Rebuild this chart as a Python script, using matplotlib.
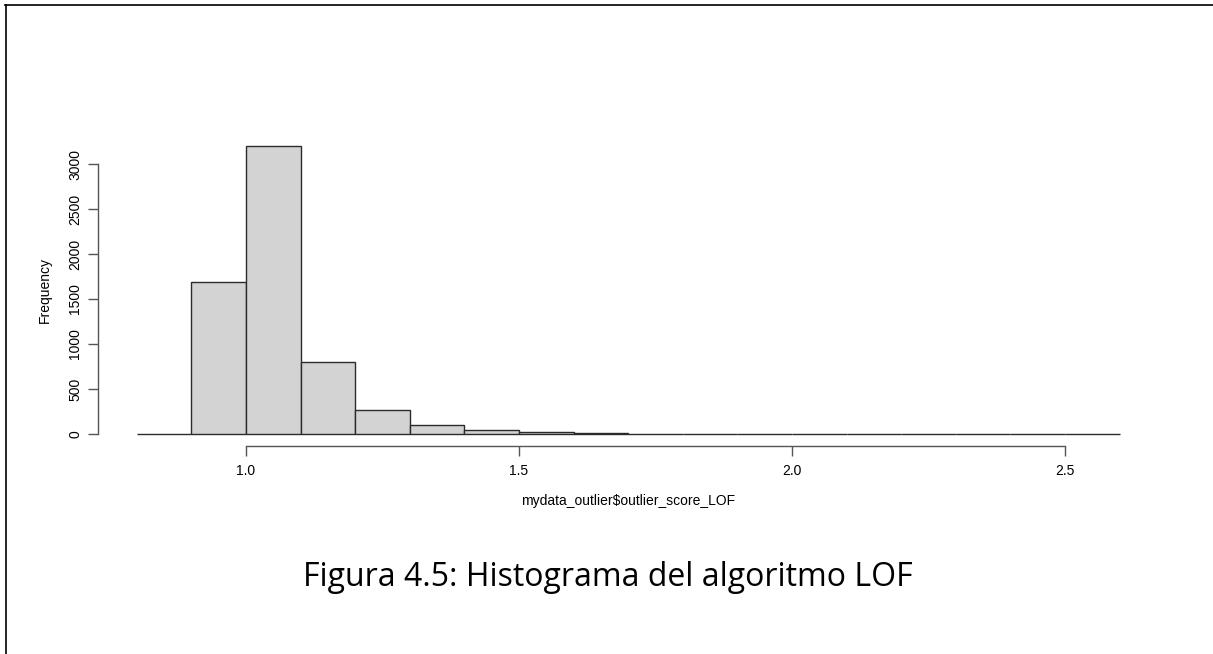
import matplotlib
matplotlib.use("Agg")
import matplotlib.pyplot as plt
from matplotlib.lines import Line2D

# histogram of LOF scores (R style hist)
bin_left = [0.8, 0.9, 1.0, 1.1, 1.2, 1.3, 1.4, 1.5, 1.6, 1.7, 1.8, 1.9, 2.0, 2.1, 2.2, 2.3, 2.4, 2.5]
counts = [2, 1690, 3200, 800, 267, 100, 44, 19, 10, 4, 2, 1, 1, 1, 0, 1, 0, 1]
xticks = [1.0, 1.5, 2.0, 2.5]
yticks = [0, 500, 1000, 1500, 2000, 2500, 3000]
caption = "Figura 4.5: Histograma del algoritmo LOF"

W, H = 1213, 654
fig = plt.figure(figsize=(W / 100, H / 100), dpi=100)
ax = fig.add_axes([97.5 / W, 1 - 445.5 / H, (1159 - 97.5) / W, (445.5 - 134.5) / H])

ax.bar(bin_left, counts, width=0.1, align='edge', color='#d3d3d3',
       edgecolor='#2b2b2b', linewidth=1.0)

# R-like axes: 4% padding, axis lines only across tick range
ax.set_xlim(0.728, 2.672)
ax.set_ylim(-128, 3328)
for s in ['top', 'right']:
  ax.spines[s].set_visible(False)
ax.spines['left'].set_bounds(0, 3000)
ax.spines['bottom'].set_bounds(1.0, 2.5)
for s in ['left', 'bottom']:
  ax.spines[s].set_color('#555555')
  ax.spines[s].set_linewidth(1.0)

ax.set_xticks(xticks)
ax.set_xticklabels(['%.1f' % t for t in xticks], family='Liberation Sans', fontsize=10)
ax.set_yticks(yticks)
ax.set_yticklabels([str(t) for t in yticks], family='Liberation Sans', fontsize=10,
                   rotation=90, va='center')
ax.tick_params(axis='both', direction='out', length=7, width=1.0, color='#555555', pad=6)
ax.tick_params(axis='y', pad=4)

ax.set_xlabel('mydata_outlier$outlier_score_LOF', family='Liberation Sans', fontsize=10, labelpad=12)
ax.set_ylabel('Frequency', family='Liberation Sans', fontsize=10, labelpad=12)

# caption under the plot
fig.text(608 / W, 1 - 577 / H, caption, family='Open Sans', fontsize=23, ha='center', va='center')

# page frame lines (top and left)
fig.add_artist(Line2D([5 / W, 1], [1 - 4.5 / H, 1 - 4.5 / H], color='black', lw=1.2,
                      transform=fig.transFigure))
fig.add_artist(Line2D([5.5 / W, 5.5 / W], [0, 1 - 4.5 / H], color='black', lw=1.2,
                      transform=fig.transFigure))

plt.savefig('out.png', dpi=100)
